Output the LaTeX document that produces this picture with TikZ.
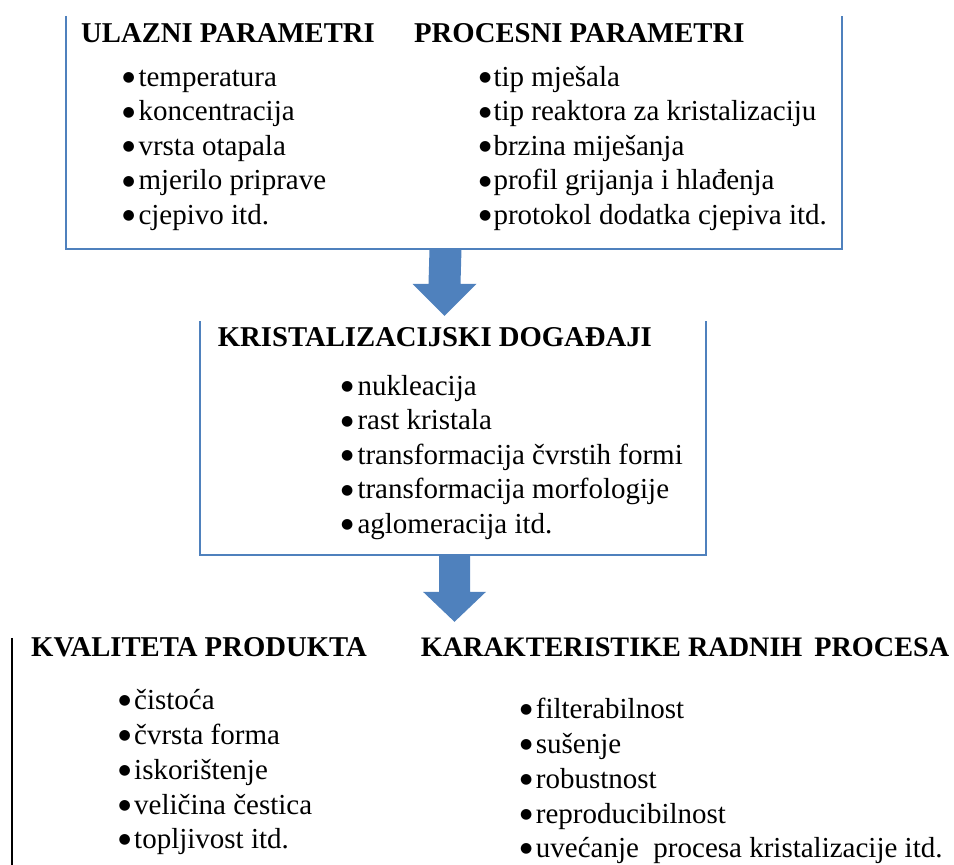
\documentclass[tikz,border=0pt]{standalone}
\usepackage{fontspec}
\setmainfont{Liberation Serif}
\newfontfamily\bulletfont{DejaVu Sans}
\usetikzlibrary{calc}
\definecolor{edgeblue}{HTML}{4F81BD}
\newcommand\BlkArrow[5]{% start, tip, shaft half width, head half width, head length
  \fill[edgeblue] ($(#1)+(-#3,0)$) -- ($(#2)+(-#3,-#5)$) -- ($(#2)+(-#4,-#5)$) -- (#2)
    -- ($(#2)+(#4,-#5)$) -- ($(#2)+(#3,-#5)$) -- ($(#1)+(#3,0)$) -- cycle;}
\newcommand\itm[2]{\makebox[#1][l]{\rlap{\hspace{-0.5pt}\raisebox{4.5pt}{\bulletfont\fontsize{14}{14}\selectfont ●}}}#2}
\begin{document}
\begin{tikzpicture}[x=1pt,y=-1pt,
  head/.style={anchor=base west, inner sep=0pt, font=\fontsize{28.7}{34}\selectfont\bfseries},
  item/.style={anchor=base west, inner sep=0pt, font=\fontsize{29}{35}\selectfont},
  frame/.style={draw=none, inner sep=0pt},
  boxline/.style={draw=edgeblue, line width=2pt},
  blackline/.style={draw=black, line width=2pt}]
\useasboundingbox (0,0) rectangle (954,865);

% frames
\node[frame, minimum width=776pt, minimum height=233pt] (topbox) at (454,132.5) {};
\node[frame, minimum width=506pt, minimum height=233.3pt] (midbox) at (453,438.3) {};
\node[frame, minimum width=938pt, minimum height=227pt] (botbox) at (481.3,751.5) {};

\draw[boxline] (topbox.north west) |- (topbox.south east) -- (topbox.north east);
\draw[boxline] (midbox.north west) |- (midbox.south east) -- (midbox.north east);
\draw[blackline] (botbox.north west) -- (botbox.south west);

% block arrows
\coordinate (a1s) at ([xshift=-8.5pt]topbox.south);
\coordinate (a1e) at ([xshift=-8.5pt,yshift=5.7pt]midbox.north);
\BlkArrow{a1s}{a1e}{16}{32}{32}
\coordinate (a2s) at ([xshift=1.5pt]midbox.south);
\coordinate (a2e) at ([yshift=16pt]a2s |- botbox.north);
\BlkArrow{a2s}{a2e}{15.5}{31.5}{30}

% top box text
\node[head] (h1) at (81,42) {ULAZNI PARAMETRI};
\node[head] (h2) at (414,42) {PROCESNI PARAMETRI};
\node[item] (l1) at (122.8,86) {\itm{15.5pt}{temperatura}};
\node[item] (l2) at (122.8,120.5) {\itm{15.5pt}{koncentracija}};
\node[item] (l3) at (122.8,155) {\itm{15.5pt}{vrsta otapala}};
\node[item] (l4) at (122.8,189.5) {\itm{15.5pt}{mjerilo priprave}};
\node[item] (l5) at (122.8,224) {\itm{15.5pt}{cjepivo itd.}};
\node[item] (r1) at (479.5,86) {\itm{13.8pt}{tip mješala}};
\node[item] (r2) at (479.5,120.5) {\itm{13.8pt}{tip reaktora za kristalizaciju}};
\node[item] (r3) at (479.5,155) {\itm{13.8pt}{brzina miješanja}};
\node[item] (r4) at (479.5,189.5) {\itm{13.8pt}{profil grijanja i hlađenja}};
\node[item] (r5) at (479.5,224) {\itm{13.8pt}{protokol dodatka cjepiva itd.}};

% middle box text
\node[head] (h3) at (217.7,346.7) {KRISTALIZACIJSKI DOGAĐAJI};
\node[item] (m1) at (341.5,395) {\itm{15.8pt}{nukleacija}};
\node[item] (m2) at (341.5,429.5) {\itm{15.8pt}{rast kristala}};
\node[item] (m3) at (341.5,464) {\itm{15.8pt}{transformacija čvrstih formi}};
\node[item] (m4) at (341.5,498.5) {\itm{15.8pt}{transformacija morfologije}};
\node[item] (m5) at (341.5,533) {\itm{15.8pt}{aglomeracija itd.}};

% bottom text
\node[head] (h4) at (31,656) {KVALITETA PRODUKTA};
\node[head, font=\fontsize{28.2}{34}\selectfont\bfseries] (h5) at (420.7,656) {KARAKTERISTIKE RADNIH\hspace{12pt}PROCESA};
\node[item] (b1) at (118.8,709) {\itm{15.2pt}{čistoća}};
\node[item] (b2) at (118.8,744) {\itm{15.2pt}{čvrsta forma}};
\node[item] (b3) at (118.8,779) {\itm{15.2pt}{iskorištenje}};
\node[item] (b4) at (118.8,814) {\itm{15.2pt}{veličina čestica}};
\node[item] (b5) at (118.8,848) {\itm{15.2pt}{topljivost itd.}};
\node[item] (c1) at (520.5,718) {\itm{15.2pt}{filterabilnost}};
\node[item] (c2) at (520.5,753) {\itm{15.2pt}{sušenje}};
\node[item] (c3) at (520.5,788) {\itm{15.2pt}{robustnost}};
\node[item] (c4) at (520.5,823) {\itm{15.2pt}{reproducibilnost}};
\node[item] (c5) at (520.5,857) {\itm{15.2pt}{uvećanje~ procesa kristalizacije itd.}};
\end{tikzpicture}
\end{document}
